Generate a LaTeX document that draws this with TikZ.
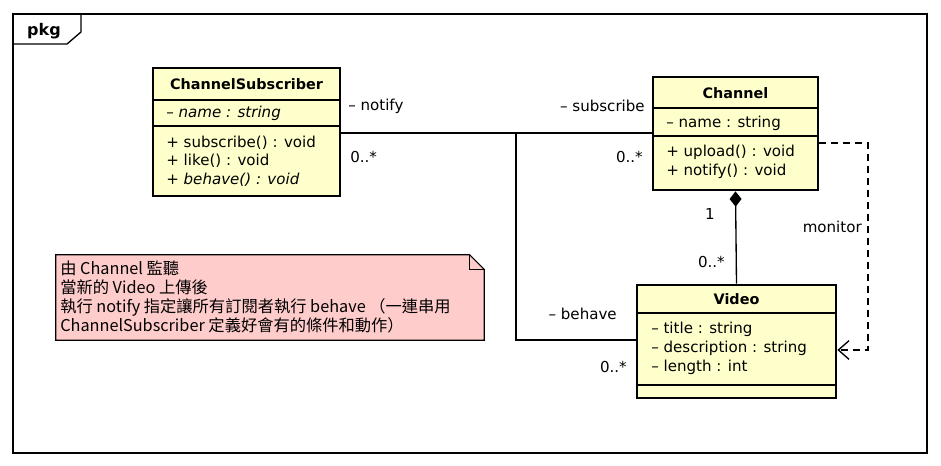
\documentclass[tikz,border=0pt]{standalone}
\usepackage{fontspec}
\setmainfont{DejaVu Sans}
\newfontfamily\cjkfont{Noto Sans CJK TC}
\usetikzlibrary{positioning,arrows.meta}
\definecolor{jaune}{RGB}{255,255,204}
\definecolor{rose}{RGB}{255,204,204}
\tikzstyle{classe}=[rectangle,draw=black,line width=2pt,fill=jaune,inner sep=0pt]
\tikzstyle{titre}=[font=\fontsize{10.8}{13}\selectfont\bfseries,inner sep=0pt]
\tikzstyle{membre}=[anchor=west,inner sep=0pt]
\tikzstyle{sep}=[line width=0.8pt]
\tikzstyle{lien}=[line width=1pt]
\tikzstyle{etiq}=[inner sep=0pt]
\tikzstyle{remarque}=[rectangle,inner sep=0pt,minimum width=321pt,minimum height=63.75pt]

\begin{document}
\begin{tikzpicture}[x=0.75pt,y=-0.75pt,font=\fontsize{11.3}{13.5}\selectfont]
\useasboundingbox (0,0) rectangle (941,466);

% cadre du paquet
\draw[line width=1pt] (13,14) rectangle (927,453);
\draw[line width=1pt] (13,44) -- (67,44) -- (81,32) -- (81,14);
\node[titre,font=\fontsize{12}{14}\selectfont\bfseries] (pkg) at (44,31) {pkg};

% ChannelSubscriber
\node[classe,minimum width=140.25pt,minimum height=96pt] (cs) at (246.5,132) {};
\draw[sep] (cs.west |- 0,100) -- (cs.east |- 0,100);
\draw[sep] (cs.west |- 0,126) -- (cs.east |- 0,126);
\node[titre] (cst) at (cs.center |- 0,84) {ChannelSubscriber};
\node[membre] (csa) at (166,113) {\itshape – name : string};
\node[membre] (csm1) at (166,143) {+ subscribe() : void};
\node[membre] (csm2) at (166,161) {+ like() : void};
\node[membre] (csm3) at (166,180) {\itshape + behave() : void};

% Channel
\node[classe,minimum width=123.75pt,minimum height=84.75pt] (ch) at (735.5,133.5) {};
\draw[sep] (ch.west |- 0,108) -- (ch.east |- 0,108);
\draw[sep] (ch.west |- 0,136) -- (ch.east |- 0,136);
\node[titre] (cht) at (ch.center |- 0,93) {Channel};
\node[membre] (cha) at (666,123) {– name : string};
\node[membre] (chm1) at (666,152) {+ upload() : void};
\node[membre] (chm2) at (666,171) {+ notify() : void};

% Video
\node[classe,minimum width=149.25pt,minimum height=84.75pt] (vid) at (736.5,341.5) {};
\draw[sep] (vid.west |- 0,313) -- (vid.east |- 0,313);
\draw[sep] (vid.west |- 0,385) -- (vid.east |- 0,385);
\node[titre] (vidt) at (vid.center |- 0,299) {Video};
\node[membre] (vida1) at (651,329) {– title : string};
\node[membre] (vida2) at (651,348) {– description : string};
\node[membre] (vida3) at (651,367) {– length : int};

% note
\node[remarque] (note) at (270,297.5) {};
\draw[line width=0.8pt,fill=rose] (note.south west) -- (note.north west) -- ([xshift=-11pt]note.north east)
  -- ([yshift=-11pt]note.north east) -- (note.south east) -- cycle;
\draw[line width=0.6pt] ([xshift=-11pt]note.north east) -- ([xshift=-11pt,yshift=-11pt]note.north east)
  -- ([yshift=-11pt]note.north east);
\node[membre,anchor=north west,align=left,font=\fontsize{12.2}{14.25}\selectfont\cjkfont] (notet) at (60,261)
  {由 Channel 監聽\\當新的 Video 上傳後\\執行 notify 指定讓所有訂閱者執行 behave （一連串用\\ChannelSubscriber 定義好會有的條件和動作）};

% associations
\coordinate (j) at (516,133);
\draw[lien] (cs.east |- j) -- (ch.west |- j);
\draw[lien] (j) |- (vid.west |- 0,340);
\node[etiq,anchor=west] (l1) at (348,106) {– notify};
\node[etiq,anchor=west] (l2) at (350,157) {0..*};
\node[etiq,anchor=east] (l3) at (645,106) {– subscribe};
\node[etiq,anchor=east] (l4) at (643,157) {0..*};
\node[etiq,anchor=east] (l5) at (617,314) {– behave};
\node[etiq,anchor=east] (l6) at (627,367) {0..*};

% composition
\draw[lien,-{Diamond[length=11.5pt,width=9pt]}] (vid.north) -- (ch.south);
\node[etiq] (l7) at (710,214) {1};
\node[etiq,anchor=east] (l8) at (725,262) {0..*};

% dependance
\coordinate (d1) at (868,143);
\coordinate (d2) at (868,350);
\draw[lien,dashed,dash pattern=on 5pt off 4pt,-{Straight Barb[length=8pt,width=14pt]}]
  (ch.east |- d1) -- (d1) -- (d2) -- (vid.east |- d2);
\node[etiq,anchor=east] (l9) at (862,227) {monitor};

\end{tikzpicture}
\end{document}
